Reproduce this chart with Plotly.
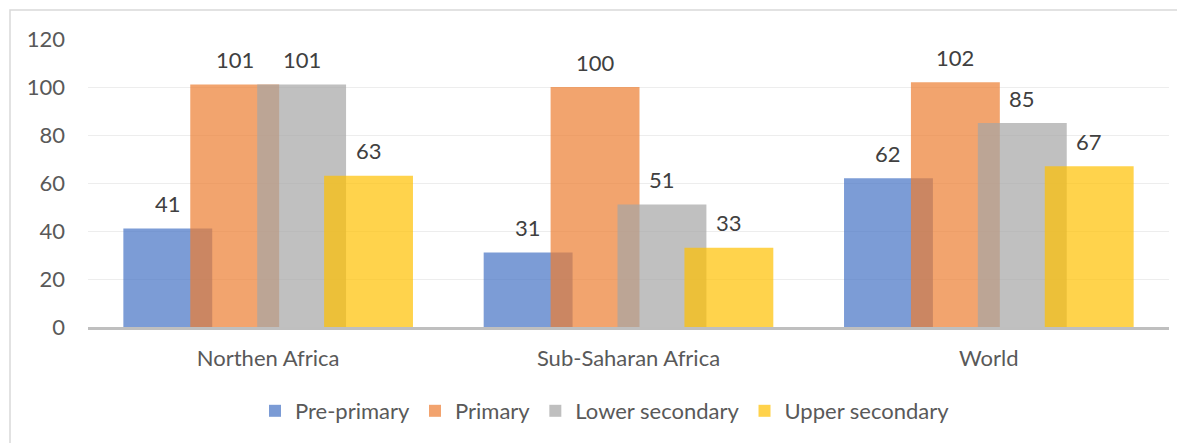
import plotly.graph_objects as go

categories = ["Northen Africa", "Sub-Saharan Africa", "World"]
series_names = ["Pre-primary", "Primary", "Lower secondary", "Upper secondary"]
pre_primary = [41, 31, 62]
primary = [101, 100, 102]
lower_secondary = [101, 51, 85]
upper_secondary = [63, 33, 67]
y_ticks = [0, 20, 40, 60, 80, 100, 120]

series_values = [pre_primary, primary, lower_secondary, upper_secondary]
colors = ["#4472C4", "#ED7D31", "#A5A5A5", "#FFC000"]

W, H = 1185, 443
OFF = 8  # page body margin
L, R, T, B = 88 - OFF, 1169 - OFF, 39 - OFF, 327 - OFF  # plot area in figure px
FONT = "Lato"
FS = 22

bar_w = 0.2467
step = 0.1857
first_off = -(3 * step + bar_w) / 2

fig = go.Figure()
xs = list(range(len(categories)))
for i, (name, vals) in enumerate(zip(series_names, series_values)):
    off = first_off + i * step
    fig.add_trace(go.Bar(
        x=xs, y=vals, name=name,
        width=[bar_w] * len(vals), offset=[off] * len(vals),
        marker=dict(color=colors[i], line=dict(width=0)),
        opacity=0.7,
    ))
    for xi, v in zip(xs, vals):
        fig.add_annotation(x=xi + off + bar_w / 2, y=v, text=str(v),
                           showarrow=False, yanchor="middle", yshift=25,
                           font=dict(family=FONT, size=FS, color="#404040"))

def px2paper_x(p):
    return (p - OFF - L) / (R - L)

def px2paper_y(p):
    return (B - (p - OFF)) / (B - T)

fig.add_shape(type="rect", xref="paper", yref="paper",
              x0=px2paper_x(10), x1=px2paper_x(1210),
              y0=px2paper_y(470), y1=px2paper_y(10),
              line=dict(color="#D9D9D9", width=1.5), layer="below")

fig.update_layout(
    width=W, height=H,
    margin=dict(l=L, r=W - R, t=T, b=H - B, pad=0, autoexpand=False),
    barmode="overlay",
    plot_bgcolor="white", paper_bgcolor="white",
    font=dict(family=FONT, size=FS, color="#595959"),
    showlegend=True,
    legend=dict(orientation="h", x=px2paper_x(605), xanchor="center",
                y=px2paper_y(411), yanchor="middle",
                font=dict(family=FONT, size=FS, color="#595959"),
                itemwidth=30, traceorder="normal", bgcolor="rgba(0,0,0,0)"),
    xaxis=dict(range=[-0.5, 2.5], tickmode="array", tickvals=xs, ticktext=categories,
               showgrid=False, showline=True, linecolor="#BFBFBF", linewidth=2.5,
               ticks="", zeroline=False, ticklabelstandoff=10, tickangle=0,
               automargin=False),
    yaxis=dict(range=[0, 120], tickmode="array", tickvals=y_ticks,
               showgrid=True, gridcolor="#EDEDED", gridwidth=1.3,
               zeroline=False, showline=False, ticks="", ticklabelstandoff=22,
               automargin=False),
)

fig.write_html("out.html")
